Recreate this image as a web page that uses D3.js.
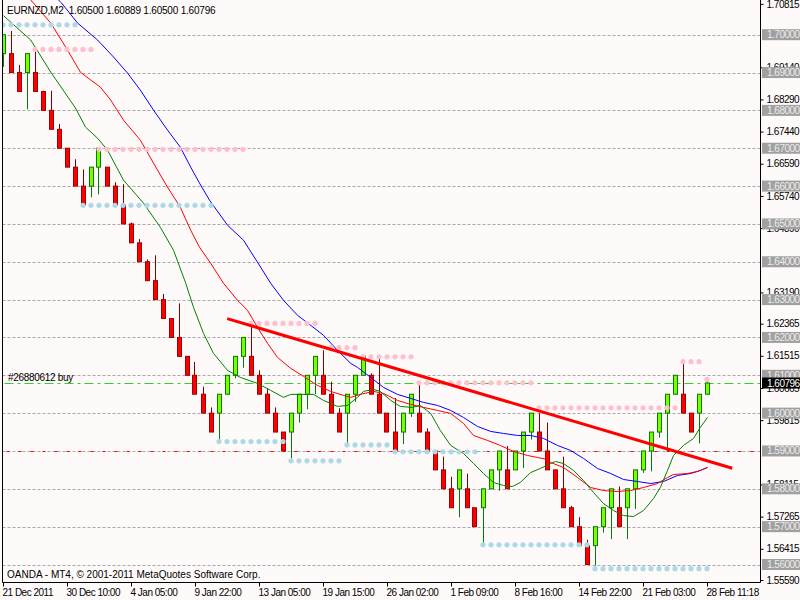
<!DOCTYPE html>
<html lang="en">
<head>
<meta charset="UTF-8">
<title>EURNZD,M2</title>
<style>
    body, html {
        margin: 0;
        padding: 0;
        overflow: hidden;
        background: #fffafa;
    }
    svg text {
        font-family: 'Liberation Sans', Arial, sans-serif;
        font-size: 10px;
        letter-spacing: -0.5px;
    }
</style>
</head>
<body>
<svg id="chart" width="800" height="600"></svg>
<script src="https://d3js.org/d3.v7.min.js"></script>
<script>
// renko-style bars, 0.005 box
const barOpen = [
    1.695, 1.695, 1.690, 1.690, 1.690, 1.685, 1.680, 1.675, 1.670, 1.665,
    1.660, 1.660, 1.665, 1.665, 1.660, 1.655, 1.650, 1.645, 1.640, 1.635,
    1.630, 1.625, 1.620, 1.615, 1.610, 1.605, 1.600, 1.600, 1.605, 1.610,
    1.615, 1.615, 1.610, 1.605, 1.600, 1.595, 1.595, 1.600, 1.605, 1.610,
    1.610, 1.605, 1.600, 1.600, 1.605, 1.610, 1.610, 1.605, 1.600, 1.595,
    1.595, 1.600, 1.600, 1.595, 1.590, 1.585, 1.580, 1.580, 1.580, 1.575,
    1.575, 1.580, 1.585, 1.585, 1.585, 1.590, 1.595, 1.595, 1.590, 1.585,
    1.580, 1.575, 1.570, 1.565, 1.565, 1.570, 1.575, 1.575, 1.575, 1.580,
    1.585, 1.590, 1.595, 1.600, 1.605, 1.605, 1.600, 1.600, 1.605
];
const barClose = [
    1.700, 1.690, 1.685, 1.695, 1.685, 1.680, 1.675, 1.670, 1.665, 1.660,
    1.655, 1.665, 1.670, 1.660, 1.655, 1.650, 1.645, 1.640, 1.635, 1.630,
    1.625, 1.620, 1.615, 1.610, 1.605, 1.600, 1.595, 1.605, 1.610, 1.615,
    1.620, 1.610, 1.605, 1.600, 1.595, 1.590, 1.600, 1.605, 1.610, 1.615,
    1.605, 1.600, 1.595, 1.605, 1.610, 1.615, 1.605, 1.600, 1.595, 1.590,
    1.600, 1.605, 1.595, 1.590, 1.585, 1.580, 1.575, 1.585, 1.575, 1.570,
    1.580, 1.585, 1.590, 1.580, 1.590, 1.595, 1.600, 1.590, 1.585, 1.580,
    1.575, 1.570, 1.565, 1.560, 1.570, 1.575, 1.580, 1.570, 1.580, 1.585,
    1.590, 1.595, 1.600, 1.605, 1.610, 1.600, 1.595, 1.605, 1.60796
];
const barHigh = [
    1.700, 1.701, 1.692, 1.695, 1.6955, 1.6852, 1.6852, 1.6764, 1.670, 1.6671,
    1.6644, 1.665, 1.670, 1.665, 1.661, 1.6605, 1.6504, 1.646, 1.6406, 1.6417,
    1.6315, 1.625, 1.629, 1.615, 1.6135, 1.607, 1.6015, 1.605, 1.610, 1.615,
    1.620, 1.6234, 1.6113, 1.6065, 1.6015, 1.595, 1.600, 1.605, 1.610, 1.615,
    1.6166, 1.6083, 1.6013, 1.605, 1.610, 1.615, 1.6105, 1.6143, 1.600, 1.604,
    1.600, 1.605, 1.6075, 1.596, 1.590, 1.5885, 1.5832, 1.585, 1.584, 1.575,
    1.580, 1.585, 1.590, 1.5913, 1.590, 1.595, 1.600, 1.600, 1.5975, 1.585,
    1.5885, 1.5755, 1.5725, 1.5665, 1.570, 1.575, 1.580, 1.5806, 1.580, 1.585,
    1.590, 1.595, 1.600, 1.605, 1.610, 1.6131, 1.600, 1.605, 1.60889
];
const barLow = [
    1.6915, 1.690, 1.685, 1.6803, 1.685, 1.680, 1.675, 1.670, 1.665, 1.660,
    1.655, 1.657, 1.6578, 1.660, 1.655, 1.650, 1.645, 1.640, 1.635, 1.630,
    1.625, 1.620, 1.615, 1.610, 1.605, 1.600, 1.595, 1.593, 1.605, 1.6092,
    1.612, 1.610, 1.605, 1.600, 1.595, 1.590, 1.588, 1.5975, 1.601, 1.605,
    1.605, 1.600, 1.595, 1.592, 1.603, 1.610, 1.605, 1.600, 1.595, 1.590,
    1.5918, 1.599, 1.595, 1.590, 1.585, 1.580, 1.575, 1.5725, 1.575, 1.570,
    1.5655, 1.580, 1.5795, 1.580, 1.585, 1.5855, 1.593, 1.590, 1.585, 1.580,
    1.575, 1.570, 1.565, 1.560, 1.5597, 1.5684, 1.5667, 1.570, 1.5667, 1.5747,
    1.5842, 1.5846, 1.5935, 1.5899, 1.605, 1.600, 1.595, 1.592, 1.60500
];

// moving averages: [bar index, price]
const maFast = [
    [0, 1.70503], [3.4, 1.69860], [5.9, 1.69013], [9, 1.68061], [10.25, 1.67558],
    [11.75, 1.67267], [13, 1.66950], [15, 1.66156], [17.5, 1.65548], [19.6, 1.64913],
    [21.25, 1.64304], [22.75, 1.63450], [23.75, 1.62796], [25, 1.62108], [26.25, 1.61579],
    [28, 1.61130], [29.6, 1.60944], [31.75, 1.60786], [33.4, 1.60601], [35, 1.60416],
    [35.9, 1.60495], [38.75, 1.60495], [40, 1.60336], [41.75, 1.60177], [43, 1.60204],
    [44.25, 1.60416], [45, 1.60574], [46.25, 1.60627], [47.1, 1.60574], [48.4, 1.60336],
    [49.6, 1.60177], [51.1, 1.60151], [52.1, 1.60204], [53.4, 1.59992], [54.6, 1.59542],
    [55.9, 1.59146], [57.5, 1.58934], [58.75, 1.58670], [60, 1.58405], [61.25, 1.58167],
    [62.5, 1.58087], [63.6, 1.58061], [64.6, 1.58167], [65.9, 1.58431], [67.1, 1.58537],
    [68.4, 1.58669], [69, 1.58722], [70, 1.58669], [71.25, 1.58484], [72.5, 1.58220],
    [73.75, 1.57902], [75, 1.57611], [76.25, 1.57426], [77.5, 1.57294], [78.75, 1.57267],
    [80, 1.57426], [81.25, 1.57743], [82.1, 1.58034], [83, 1.58484], [83.75, 1.58881],
    [85, 1.59146], [86.25, 1.59331], [87.1, 1.59622], [88, 1.59886]
];
const maMid = [
    [0, 1.71711], [3.4, 1.70918], [5.9, 1.70310], [8, 1.69595], [9.6, 1.69013],
    [10.9, 1.68802], [12.1, 1.68616], [13.4, 1.68273], [15, 1.67743], [17.1, 1.67214],
    [18.75, 1.66606], [20.5, 1.65971], [22.1, 1.65442], [23.4, 1.64833], [24.5, 1.64384],
    [25.9, 1.63960], [27.5, 1.63431], [29.25, 1.62981], [30.5, 1.62717], [31.75, 1.62267],
    [33, 1.61844], [34.25, 1.61473], [35.9, 1.61183], [37.5, 1.60971], [39.25, 1.60733],
    [40.9, 1.60574], [42.5, 1.60468], [43.4, 1.60416], [44.6, 1.60495], [46.25, 1.60574],
    [47.5, 1.60521], [49.25, 1.60336], [50.9, 1.60230], [52.5, 1.60151], [54.25, 1.60071],
    [55.9, 1.59992], [57.5, 1.59728], [58.75, 1.59410], [60.5, 1.59278], [62.1, 1.59146],
    [63.75, 1.58987], [65.5, 1.58881], [66.75, 1.58828], [68, 1.58775], [68.4, 1.58696],
    [70, 1.58563], [71.75, 1.58299], [73.4, 1.58034], [75, 1.57955], [76.75, 1.57929],
    [78.4, 1.57955], [80, 1.58034], [81.75, 1.58140], [83, 1.58299], [83.75, 1.58378],
    [85.5, 1.58405], [86.75, 1.58458], [88, 1.58563]
];
const maSlow = [
    [0, 1.72376], [7.25, 1.70839], [9.25, 1.70310], [11.75, 1.69860], [13.75, 1.69410],
    [15.5, 1.68987], [17.1, 1.68537], [18.75, 1.68008], [20.5, 1.67479], [22.1, 1.67029],
    [23.4, 1.66500], [24.5, 1.66077], [25.75, 1.65627], [28, 1.64966], [30, 1.64569],
    [31.75, 1.63987], [33.4, 1.63431], [35, 1.62981], [36.75, 1.62585], [38.4, 1.62320],
    [40, 1.62056], [41.75, 1.61659], [43.4, 1.61315], [44.25, 1.61209], [45.9, 1.60944],
    [47.5, 1.60680], [49.25, 1.60495], [50.9, 1.60389], [52.5, 1.60283], [54.25, 1.60204],
    [55.9, 1.60071], [57.5, 1.59886], [59.25, 1.59648], [60.9, 1.59516], [62.5, 1.59463],
    [64.25, 1.59410], [65.9, 1.59410], [67.5, 1.59331], [69.25, 1.59146], [70.9, 1.59013],
    [72.5, 1.58802], [74.25, 1.58537], [75.9, 1.58405], [77.5, 1.58246], [79.25, 1.58193],
    [80.9, 1.58140], [82.5, 1.58193], [84.25, 1.58352], [85.9, 1.58405], [87.1, 1.58484],
    [88, 1.58563]
];

// dotted levels: [price, first bar, last bar]
const upperDots = [
    [1.6961, 4, 11], [1.6697, 12, 30], [1.6237, 31, 39], [1.6173, 41, 44],
    [1.6149, 45, 51], [1.6080, 52, 66], [1.6014, 67, 84], [1.6136, 85, 87],
    [1.6089, 88, 88]
];
const lowerDots = [
    [1.7026, 0, 9], [1.6549, 10, 26], [1.5925, 27, 35], [1.5874, 36, 42],
    [1.5916, 43, 48], [1.5898, 49, 59], [1.5652, 60, 73], [1.5589, 74, 88]
];

// trendline end points: [bar index, price]
const trendLine = [[27.96, 1.62497], [91.1, 1.58545]];

const levelLines = [1.70, 1.69, 1.68, 1.67, 1.66, 1.65, 1.64, 1.63, 1.62, 1.61,
                    1.60, 1.59, 1.58, 1.57, 1.56];
const priceTicks = [1.70815, 1.69140, 1.68290, 1.67440, 1.66590, 1.65740,
                    1.64890, 1.63190, 1.62365, 1.61515, 1.60665, 1.59815,
                    1.58115, 1.57265, 1.56415, 1.55590];
const timeIdx = [0, 8, 16, 24, 32, 40, 48, 56, 64, 72, 80, 88];
const timeLabels = ["21 Dec 2011", "30 Dec 10:00", "4 Jan 05:00", "9 Jan 22:00",
                    "13 Jan 05:00", "19 Jan 15:00", "26 Jan 02:00", "1 Feb 09:00",
                    "8 Feb 16:00", "14 Feb 22:00", "21 Feb 03:00", "28 Feb 11:18"];

const stopLevel = 1.59;
const orderPrice = 1.60785;
const lastPrice = 1.60796;

const W = 800, H = 600;
const plotRight = 760.5, plotBottom = 582.5, plotLeft = 2.5;

const svg = d3.select("#chart");

const x = d3.scaleLinear().domain([0, 88]).range([3.5, 707.5]);
const y = d3.scaleLinear().domain([1.56, 1.70]).range([564.5, 34.7]);
const yc = v => Math.round(y(v)) + 0.5;

svg.append("rect").attr("width", W).attr("height", H).attr("fill", "#fffafa");

svg.append("defs").append("clipPath").attr("id", "plot")
    .append("rect").attr("x", plotLeft).attr("y", 0)
    .attr("width", plotRight - plotLeft).attr("height", plotBottom);

const plot = svg.append("g").attr("clip-path", "url(#plot)");

// horizontal levels
plot.append("g").selectAll("line")
    .data(levelLines)
    .enter().append("line")
    .attr("x1", plotLeft).attr("x2", plotRight)
    .attr("y1", d => yc(d)).attr("y2", d => yc(d))
    .attr("stroke", "#a8a8a8")
    .attr("stroke-dasharray", "3,2");

plot.append("line")
    .attr("x1", plotLeft + 4).attr("x2", plotRight)
    .attr("y1", yc(stopLevel)).attr("y2", yc(stopLevel))
    .attr("stroke", "#ff0000")
    .attr("stroke-dasharray", "3,9");

plot.append("line")
    .attr("x1", plotLeft + 2).attr("x2", plotRight)
    .attr("y1", yc(orderPrice)).attr("y2", yc(orderPrice))
    .attr("stroke", "#32cd32")
    .attr("stroke-dasharray", "9,4,3,4");

// candles
const bars = d3.range(barOpen.length).map(i => ({
    i, o: barOpen[i], c: barClose[i], h: barHigh[i], l: barLow[i]
}));

const candle = plot.append("g").selectAll("g")
    .data(bars)
    .enter().append("g");

candle.append("line")
    .attr("x1", d => Math.round(x(d.i)) - 0.5)
    .attr("x2", d => Math.round(x(d.i)) - 0.5)
    .attr("y1", d => y(d.h))
    .attr("y2", d => y(d.l))
    .attr("stroke", d => d.c >= d.o ? "#008000" : "#800000");

candle.append("rect")
    .attr("x", d => Math.round(x(d.i)) - 2.5)
    .attr("width", 4)
    .attr("y", d => y(Math.max(d.o, d.c)))
    .attr("height", d => Math.abs(y(d.o) - y(d.c)))
    .attr("fill", d => d.c >= d.o ? "#7cfc00" : "#ff0000")
    .attr("stroke", d => d.c >= d.o ? "#008000" : "#a00000");

// moving averages
const maLine = d3.line().x(d => x(d[0])).y(d => y(d[1]));
[[maSlow, "#0000ff"], [maMid, "#ff0000"], [maFast, "#008000"]].forEach(([data, color]) => {
    plot.append("path")
        .attr("d", maLine(data))
        .attr("fill", "none")
        .attr("stroke", color)
        .attr("stroke-width", 1);
});

// dotted levels
function drawDots(rows, color) {
    const pts = [];
    rows.forEach(([p, a, b]) => {
        for (let i = a; i <= b; i++) pts.push([i, p]);
    });
    plot.append("g").selectAll("circle")
        .data(pts)
        .enter().append("circle")
        .attr("cx", d => x(d[0]) - 0.5)
        .attr("cy", d => y(d[1]))
        .attr("r", 2.6)
        .attr("fill", color);
}
drawDots(upperDots, "#ffc0cb");
drawDots(lowerDots, "#add8e6");

// trendline
plot.append("line")
    .attr("x1", x(trendLine[0][0])).attr("y1", y(trendLine[0][1]))
    .attr("x2", x(trendLine[1][0])).attr("y2", y(trendLine[1][1]))
    .attr("stroke", "#ff0000")
    .attr("stroke-width", 3);

// texts inside chart
svg.append("text")
    .attr("x", 7).attr("y", 14)
    .style("white-space", "pre")
    .style("letter-spacing", "-0.2px")
    .text("EURNZD,M2  1.60500 1.60889 1.60500 1.60796");

svg.append("text")
    .attr("x", 8).attr("y", 381)
    .style("letter-spacing", "-0.3px")
    .text("#26880612 buy");

svg.append("text")
    .attr("x", 7).attr("y", 578)
    .style("letter-spacing", "0px")
    .text("OANDA - MT4, \u00a9 2001-2011 MetaQuotes Software Corp.");

// frame
svg.append("path")
    .attr("d", `M${plotLeft},0V${plotBottom}H${plotRight}V0`)
    .attr("fill", "none")
    .attr("stroke", "#000");

// price axis
const yAxis = d3.axisRight(y)
    .tickValues(priceTicks)
    .tickSize(3)
    .tickFormat(d3.format(".5f"));

const gy = svg.append("g")
    .attr("transform", `translate(${plotRight},0)`)
    .call(yAxis);
gy.select(".domain").remove();
gy.selectAll(".tick line").attr("stroke", "#000");
gy.selectAll(".tick text")
    .attr("x", 6)
    .attr("fill", "#000")
    .style("font-family", "'Liberation Sans', Arial, sans-serif")
    .style("font-size", "10px");

// level labels on the price axis
const lbl = svg.append("g").selectAll("g")
    .data(levelLines)
    .enter().append("g")
    .attr("transform", d => `translate(762,${y(d)})`);
lbl.append("rect")
    .attr("y", -5.5).attr("width", 38).attr("height", 11)
    .attr("fill", "#a0a0a0");
lbl.append("text")
    .attr("x", 5).attr("dy", "0.35em")
    .attr("fill", "#ececec")
    .text(d => d3.format(".5f")(d));

const cur = svg.append("g").attr("transform", `translate(762,${y(lastPrice)})`);
cur.append("rect")
    .attr("y", -5.5).attr("width", 38).attr("height", 11)
    .attr("fill", "#000");
cur.append("text")
    .attr("x", 5).attr("dy", "0.35em")
    .attr("fill", "#fff")
    .text(d3.format(".5f")(lastPrice));

// time axis
const xAxis = d3.axisBottom(x)
    .tickValues(timeIdx)
    .tickSize(4)
    .tickFormat((d, i) => timeLabels[i]);

const gx = svg.append("g")
    .attr("transform", `translate(-0.5,${plotBottom})`)
    .call(xAxis);
gx.select(".domain").remove();
gx.selectAll(".tick line").attr("stroke", "#000");
gx.selectAll(".tick text")
    .attr("text-anchor", "start")
    .attr("x", -1)
    .attr("y", 6)
    .attr("fill", "#000")
    .style("font-family", "'Liberation Sans', Arial, sans-serif")
    .style("font-size", "10px");
</script>
</body>
</html>
